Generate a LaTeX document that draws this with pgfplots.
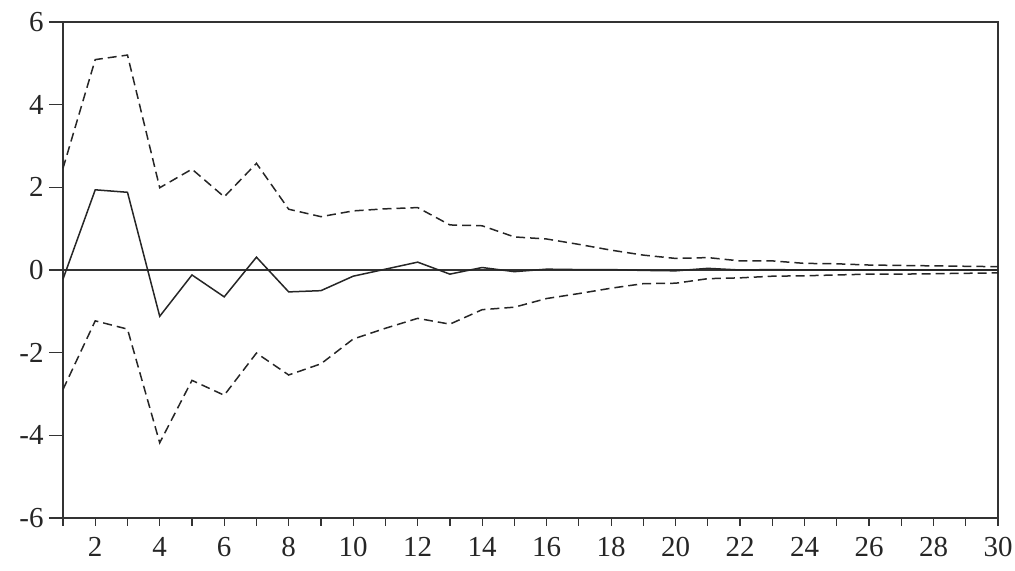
\documentclass[border=0pt]{standalone}
\usepackage{fontspec}
\setmainfont{Liberation Serif}
\usepackage{pgfplots}
\usepackage{pgfplotstable}
\pgfplotsset{compat=1.18}
\pgfplotstableread{
x mid up lo
1 -0.22 2.46 -2.89
2 1.94 5.09 -1.23
3 1.88 5.20 -1.43
4 -1.12 1.99 -4.18
5 -0.12 2.44 -2.67
6 -0.65 1.77 -3.03
7 0.31 2.58 -2.01
8 -0.53 1.47 -2.54
9 -0.50 1.29 -2.27
10 -0.15 1.43 -1.67
11 0.02 1.48 -1.41
12 0.19 1.51 -1.17
13 -0.10 1.09 -1.31
14 0.06 1.07 -0.96
15 -0.04 0.80 -0.90
16 0.02 0.75 -0.69
17 0.01 0.62 -0.57
18 0.01 0.48 -0.44
19 -0.01 0.36 -0.33
20 -0.02 0.28 -0.32
21 0.04 0.30 -0.21
22 0.00 0.22 -0.19
23 0.01 0.22 -0.15
24 0.00 0.16 -0.14
25 0.00 0.15 -0.12
26 0.00 0.12 -0.10
27 0.00 0.11 -0.10
28 0.00 0.10 -0.09
29 0.00 0.09 -0.08
30 0.00 0.08 -0.07
}\irf
\begin{document}
\begin{tikzpicture}
\begin{axis}[
  scale only axis,
  width=467.5pt, height=248pt,
  xmin=1, xmax=30, ymin=-6, ymax=6,
  axis line style={black!80, line width=0.6pt},
  xtick={2,4,...,30},
  xticklabels={2,4,6,8,10,12,14,16,18,20,22,24,26,28,30},
  minor xtick={1,3,...,29},
  ytick={-6,-4,-2,0,2,4,6},
  yticklabels={-6,-4,-2,0,2,4,6},
  tick align=outside,
  major tick length=4pt, minor tick length=4pt,
  xtick pos=bottom, ytick pos=left,
  xtick style={black!80, line width=0.6pt},
  ytick style={black!80, line width=0.6pt, /pgfplots/major tick length=7pt},
  tick label style={font=\fontsize{14.5}{16}\selectfont, text=black!85, inner sep=0pt},
  y tick label style={xshift=-5.5pt},
  x tick label style={yshift=-5.5pt},
  clip=false,
]
\addplot[black!80, line width=0.6pt, forget plot] coordinates {(1,0) (30,0)};
\addplot[black!85, line width=0.75pt] table[x=x, y=mid] {\irf};
\addplot[black!85, line width=0.75pt, dash pattern=on 4.5pt off 2.5pt] table[x=x, y=up] {\irf};
\addplot[black!85, line width=0.75pt, dash pattern=on 4.5pt off 2.5pt] table[x=x, y=lo] {\irf};
\end{axis}
\path (current axis.south west) ++(-31.5pt,-26.5pt) rectangle ([xshift=8.5pt, yshift=11pt]current axis.north east);
\end{tikzpicture}
\end{document}
